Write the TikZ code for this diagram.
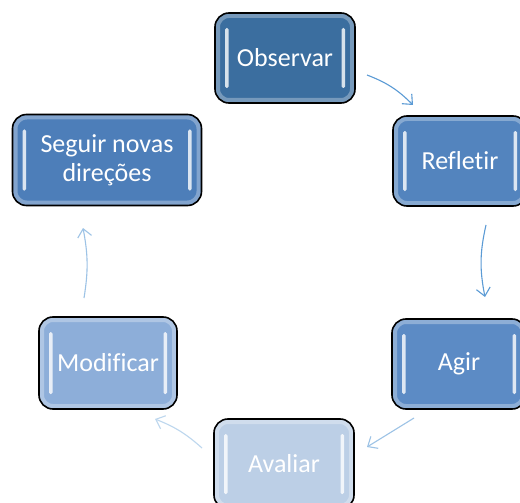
\documentclass[tikz,border=0pt]{standalone}
\usepackage{fontspec}
\setmainfont{Carlito}[Ligatures={NoCommon,NoContextual}]
\usetikzlibrary{arrows.meta}

\definecolor{obsblue}{HTML}{3B6E9F}
\definecolor{refblue}{HTML}{5384BE}
\definecolor{segblue}{HTML}{4D7EB9}
\definecolor{agiblue}{HTML}{5C8BC5}
\definecolor{modblue}{HTML}{8DAED9}
\definecolor{avablue}{HTML}{BCCFE6}
\definecolor{arrowA}{HTML}{5B9BD5}
\definecolor{arrowB}{HTML}{9DC3E6}
\definecolor{arrowC}{HTML}{BDD7EE}

\tikzset{
  stepbox/.style={draw=black, line width=1.6pt, rounded corners=14pt,
    minimum width=140pt, minimum height=90pt, align=center,
    text=white, font=\fontsize{26}{29}\selectfont, fill=#1,
    path picture={
      \draw[white, opacity=.3, line width=10pt, rounded corners=14pt]
        (path picture bounding box.north west) rectangle (path picture bounding box.south east);
      \fill[white, opacity=.8, rounded corners=1.5pt]
        ([xshift=10pt,yshift=-15pt]path picture bounding box.north west) rectangle
        ([xshift=13.5pt,yshift=15pt]path picture bounding box.south west);
      \fill[white, opacity=.8, rounded corners=1.5pt]
        ([xshift=-13.5pt,yshift=-15pt]path picture bounding box.north east) rectangle
        ([xshift=-10pt,yshift=15pt]path picture bounding box.south east);
    }},
  cycarrow/.style={-{Straight Barb[length=8pt,width=14pt]}, line width=1.1pt, draw=#1},
}

\begin{document}
\begin{tikzpicture}[x=1pt, y=-1pt]
\clip (0,0) rectangle (520,503);
\fill[white] (0,0) rectangle (520,503);

% the six steps of the cycle
\node[stepbox=obsblue] (observar) at (285,58) {Observar};
\node[stepbox=refblue, minimum width=134pt] (refletir) at (460,161) {Refletir};
\node[stepbox=agiblue, minimum width=134pt] (agir) at (459,364) {Agir};
\node[stepbox=avablue] (avaliar) at (284,464) {Avaliar};
\node[stepbox=modblue, minimum width=138pt, minimum height=92pt] (modificar) at (108,363) {Modificar};
\node[stepbox=segblue, minimum width=189pt, minimum height=91pt] (seguir) at (107,160) {Seguir novas\\direções};

% free ends of the arrows
\coordinate (a1s) at (367,75);  \coordinate (a1e) at (413,105);
\coordinate (a2s) at (486,225); \coordinate (a2e) at (485,297);
\coordinate (a3s) at (414,418); \coordinate (a3e) at (367,447);
\coordinate (a4s) at (202,448); \coordinate (a4e) at (155,419);
\coordinate (a5s) at (84,298);  \coordinate (a5e) at (83,228);

\draw[cycarrow=arrowA] (a1s) to[bend left=12] (a1e);
\draw[cycarrow=arrowA] (a2s) to[bend right=12] (a2e);
\draw[cycarrow=arrowB] (a3s) -- (a3e);
\draw[cycarrow=arrowC] (a4s) to[bend right=10] (a4e);
\draw[cycarrow=arrowB] (a5s) to[bend right=10] (a5e);
\end{tikzpicture}
\end{document}
